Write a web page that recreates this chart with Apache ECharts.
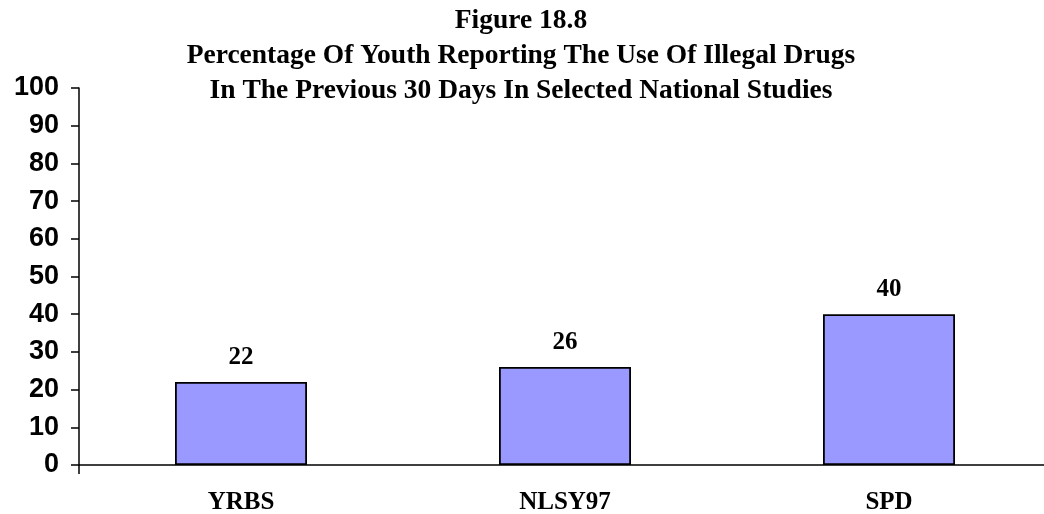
<!DOCTYPE html>
<html>
<head>
<meta charset="utf-8">
<script src="https://cdn.jsdelivr.net/npm/echarts@6/dist/echarts.min.js"></script>
<style>
  html, body { margin: 0; padding: 0; background: #fff; }
  #chart { width: 1044px; height: 514px; }
</style>
</head>
<body>
<div id="chart"></div>
<script>
// Survey names and the percentage reporting drug use in the past 30 days
const categories = ['YRBS', 'NLSY97', 'SPD'];
const percentUsing = [22, 26, 40];
const titleLines = [
  'Figure 18.8',
  'Percentage Of Youth Reporting The Use Of Illegal Drugs',
  'In The Previous 30 Days In Selected National Studies'
];

const chart = echarts.init(document.getElementById('chart'));

chart.setOption({
  animation: false,
  backgroundColor: '#ffffff',
  title: {
    text: titleLines.join('\n'),
    left: 516,
    top: -2,
    textAlign: 'center',
    textStyle: {
      fontFamily: '"Liberation Serif", "Times New Roman", serif',
      fontWeight: 'bold',
      fontSize: 27.5,
      lineHeight: 35,
      color: '#000'
    }
  },
  grid: {
    left: 79,
    top: 88,
    width: 972,
    height: 377,
    outerBoundsMode: 'none',
    containLabel: false
  },
  xAxis: {
    type: 'category',
    data: categories,
    boundaryGap: true,
    axisLine: { show: true, lineStyle: { color: '#000', width: 1.5 } },
    axisTick: {
      show: true,
      length: 9,
      interval: function (index) { return index === 0; },
      lineStyle: { color: '#000', width: 1.5 }
    },
    axisLabel: {
      margin: 25,
      fontFamily: '"Liberation Serif", "Times New Roman", serif',
      fontWeight: 'bold',
      fontSize: 25,
      color: '#000'
    }
  },
  yAxis: {
    type: 'value',
    min: 0,
    max: 100,
    interval: 10,
    splitLine: { show: false },
    axisLine: { show: true, lineStyle: { color: '#000', width: 1.5 } },
    axisTick: {
      show: true,
      inside: false,
      length: 8,
      lineStyle: { color: '#000', width: 1.5 }
    },
    axisLabel: {
      margin: 20,
      fontFamily: '"Liberation Sans", Arial, sans-serif',
      fontWeight: 'bold',
      fontSize: 27,
      color: '#000'
    }
  },
  series: [{
    type: 'bar',
    data: percentUsing,
    barWidth: 132,
    itemStyle: {
      color: '#9999ff',
      borderColor: '#000',
      borderWidth: 1.8
    },
    label: {
      show: true,
      position: 'top',
      distance: 12,
      fontFamily: '"Liberation Serif", "Times New Roman", serif',
      fontWeight: 'bold',
      fontSize: 25,
      color: '#000'
    }
  }]
});
</script>
</body>
</html>
